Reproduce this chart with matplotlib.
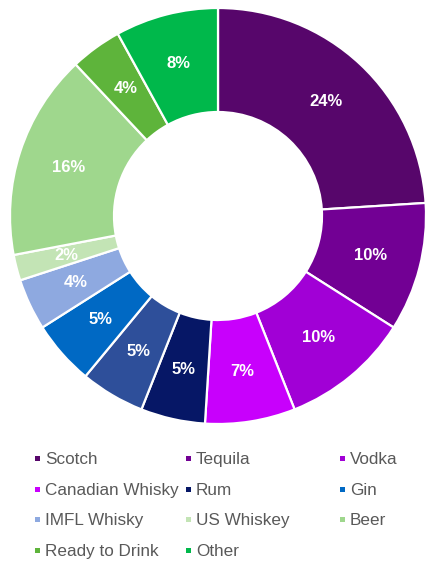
import matplotlib
matplotlib.use("Agg")
import matplotlib.pyplot as plt
from matplotlib.patches import Rectangle
import numpy as np

plt.rcParams["font.family"] = ["Liberation Sans", "DejaVu Sans"]

# Slices, clockwise from 12 o'clock
slice_names = ["Scotch", "Tequila", "Vodka", "Canadian Whisky", "Rum", "",
               "Gin", "IMFL Whisky", "US Whiskey", "Beer", "Ready to Drink", "Other"]
slice_values = [24, 10, 10, 7, 5, 5, 5, 4, 2, 16, 4, 8]
slice_colors = ["#57066B", "#720094", "#A100D6", "#C800FC", "#061766", "#2E4F9A",
                "#0069C4", "#8EA9E0", "#C3E4B5", "#9FD78D", "#5EB43B", "#00B84B"]

# Legend entries, read row by row
legend_names = ["Scotch", "Tequila", "Vodka",
                "Canadian Whisky", "Rum", "Gin",
                "IMFL Whisky", "US Whiskey", "Beer",
                "Ready to Drink", "Other"]

W, H = 426, 563
fig = plt.figure(figsize=(W / 100, H / 100), dpi=100)

cx, cy, R = 218, 216, 208
ax = fig.add_axes([(cx - R) / W, (H - cy - R) / H, 2 * R / W, 2 * R / H])
wedges, _ = ax.pie(slice_values, colors=slice_colors, startangle=90, counterclock=False,
                   radius=1.0, wedgeprops=dict(width=0.5, edgecolor="white", linewidth=1.6))
ax.set_xlim(-1, 1)
ax.set_ylim(-1, 1)
ax.set_aspect("equal")
ax.axis("off")

total = sum(slice_values)
start = 90.0
for v in slice_values:
    mid = np.deg2rad(start - v / total * 360 / 2)
    ax.text(0.755 * np.cos(mid), 0.755 * np.sin(mid), f"{v}%", ha="center", va="center",
            color="white", fontsize=12, fontweight="bold")
    start -= v / total * 360

# Legend laid out as a 3-column grid
color_of = dict(zip(slice_names, slice_colors))
col_x = [37, 188, 342]
row_y = [458, 489, 519, 550]
for i, name in enumerate(legend_names):
    r, c = divmod(i, 3)
    mx, my = col_x[c], row_y[r]
    s = 5
    fig.patches.append(Rectangle(((mx - s / 2) / W, (H - my - s / 2) / H), s / W, s / H,
                                 transform=fig.transFigure, facecolor=color_of[name],
                                 edgecolor="none"))
    fig.text((mx + 8) / W, (H - my) / H, name, ha="left", va="center_baseline",
             fontsize=12.3, color="#595959")

fig.savefig("out.png", dpi=100)
